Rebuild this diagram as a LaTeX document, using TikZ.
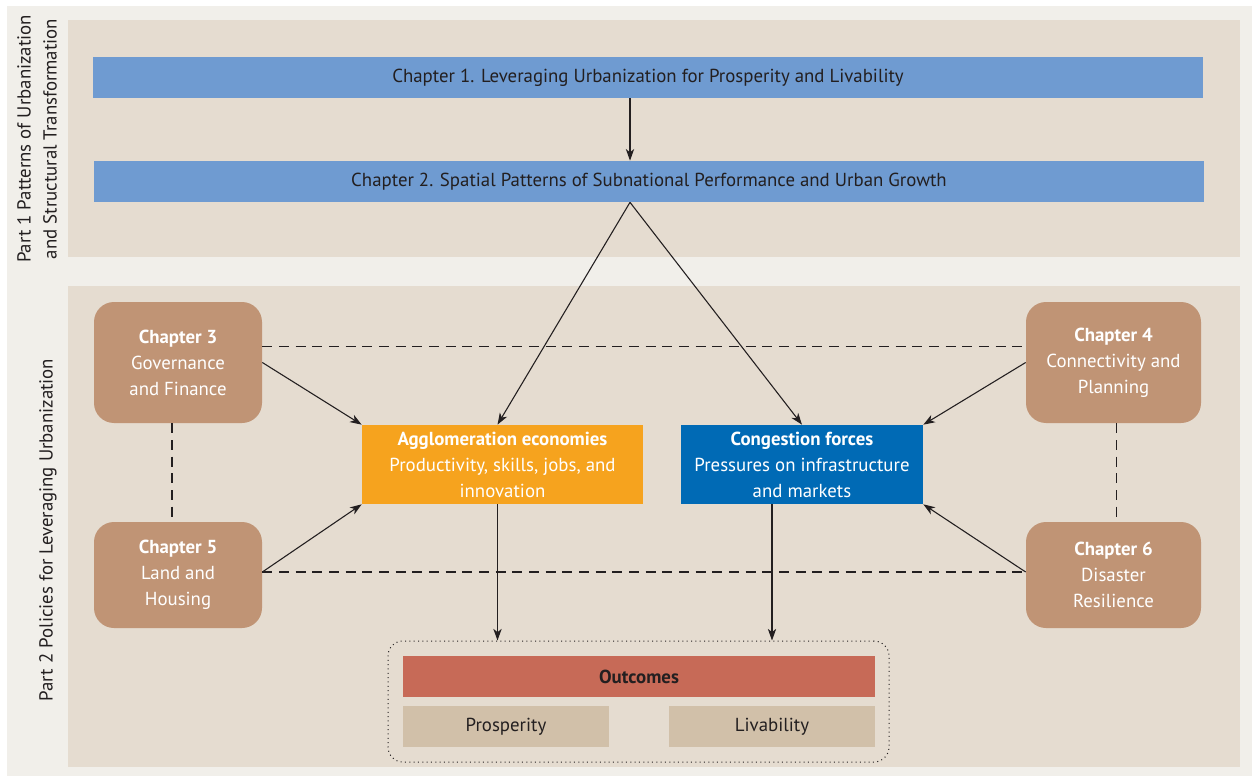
\documentclass[tikz,border=0pt]{standalone}
\usepackage{fontspec}
\setmainfont{PT Sans}
\usepackage{tikz}
\usetikzlibrary{arrows.meta,calc}
\definecolor{pagebg}{HTML}{F1EFEA}
\definecolor{panelbg}{HTML}{E5DCD0}
\definecolor{barblue}{HTML}{6F9BD1}
\definecolor{chapbrown}{HTML}{C09475}
\definecolor{aggorange}{HTML}{F6A31E}
\definecolor{congblue}{HTML}{006AB5}
\definecolor{outred}{HTML}{C76A57}
\definecolor{outtan}{HTML}{D1C0A9}
\definecolor{inkdark}{HTML}{231F20}
\begin{document}
\begin{tikzpicture}[x=0.6pt,y=-0.6pt,
		font=\fontsize{11.3}{15.6}\selectfont,
		bar/.style={fill=barblue,text=inkdark,minimum width=666pt,minimum height=24.6pt,inner sep=0pt},
		chap/.style={fill=chapbrown,text=white,rounded corners=12pt,align=center,inner sep=0pt,minimum width=#1},
		force/.style={text=white,align=center,inner sep=0pt,minimum height=47.4pt},
		result/.style={fill=outtan,text=inkdark,minimum width=123.6pt,minimum height=24.6pt,inner sep=0pt},
		link/.style={draw=inkdark,line width=0.65pt,-{Stealth[length=7pt,width=5pt,inset=2pt]}},
		tie/.style={draw=inkdark,line width=0.65pt,dash pattern=on 6pt off 4pt}]
		\useasboundingbox (0,0) rectangle (1258,778);
		\fill[pagebg] (7,6) rectangle (1252,776);
		\fill[panelbg] (68,20) rectangle (1240,257);
		\fill[panelbg] (68,286) rectangle (1240,767);
		\node[rotate=90,align=center,text=inkdark] (part1) at (37,139) {Part 1 Patterns of Urbanization\\and Structural Transformation};
		\node[rotate=90,text=inkdark] (part2) at (48,530) {Part 2 Policies for Leveraging Urbanization};
		% part 1
		\node[bar] (ch1) at (648,77.5) {Chapter 1. Leveraging Urbanization for Prosperity and Livability};
		\node[bar] (ch2) at (649,181.5) {Chapter 2. Spatial Patterns of Subnational Performance and Urban Growth};
		\coordinate (split) at ($(ch2.south)+(-19,0)$);
		% part 2
		\node[chap=100.8pt,minimum height=72.6pt] (ch3) at (178,362.5) {\textbf{Chapter 3}\\Governance\\and Finance};
		\node[chap=105pt,minimum height=72.6pt] (ch4) at (1113.5,362.5) {\textbf{Chapter 4}\\Connectivity and\\Planning};
		\node[chap=100.8pt,minimum height=63.6pt] (ch5) at (178,575) {\textbf{Chapter 5}\\Land and\\Housing};
		\node[chap=105pt,minimum height=63.6pt] (ch6) at (1113.5,575) {\textbf{Chapter 6}\\Disaster\\Resilience};
		\node[force,fill=aggorange,minimum width=168.6pt] (agg) at (502.5,464.5) {\textbf{Agglomeration economies}\\Productivity, skills, jobs, and\\innovation};
		\node[force,fill=congblue,minimum width=145.2pt] (cong) at (802,464.5) {\textbf{Congestion forces}\\Pressures on infrastructure\\and markets};
		% outcomes
		\node[draw=inkdark,line width=0.6pt,dotted,rounded corners=9pt,minimum width=300.6pt,minimum height=72.6pt] (frame) at (638.5,701.5) {};
		\node[fill=outred,text=inkdark,minimum width=283.2pt,minimum height=24.6pt,inner sep=0pt] (outc) at (639,676.5) {\textbf{Outcomes}};
		\node[result] (pros) at (506,726.5) {Prosperity};
		\node[result] (liv) at (772,726.5) {Livability};
		% dashed ties
		\draw[tie] ($(ch3.east)+(0,-16)$) -- ($(ch4.west)+(0,-16)$);
		\draw[tie] ($(ch5.east)+(0,-3)$) -- ($(ch6.west)+(0,-3)$);
		\draw[tie] ($(ch3.south)+(-6,0)$) -- ($(ch5.north)+(-6,0)$);
		\draw[tie] ($(ch4.south)+(3,0)$) -- ($(ch6.north)+(3,0)$);
		% arrows
		\draw[link] (split |- ch1.south) -- (split |- ch2.north);
		\draw[link] (split) -- ($(agg.north)+(-5,0)$);
		\draw[link] (split) -- (cong.north);
		\draw[link] (ch3.east) -- (agg.north west);
		\draw[link] ($(ch5.east)+(0,-3)$) -- (agg.south west);
		\draw[link] (ch4.west) -- (cong.north east);
		\draw[link] ($(ch6.west)+(0,-3)$) -- (cong.south east);
		\draw[link] ($(agg.south)+(-5,0)$) -- ($(agg.south |- frame.north)+(-5,0)$);
		\draw[link] (liv.north |- cong.south) -- (liv.north |- frame.north);
	\end{tikzpicture}
\end{document}
